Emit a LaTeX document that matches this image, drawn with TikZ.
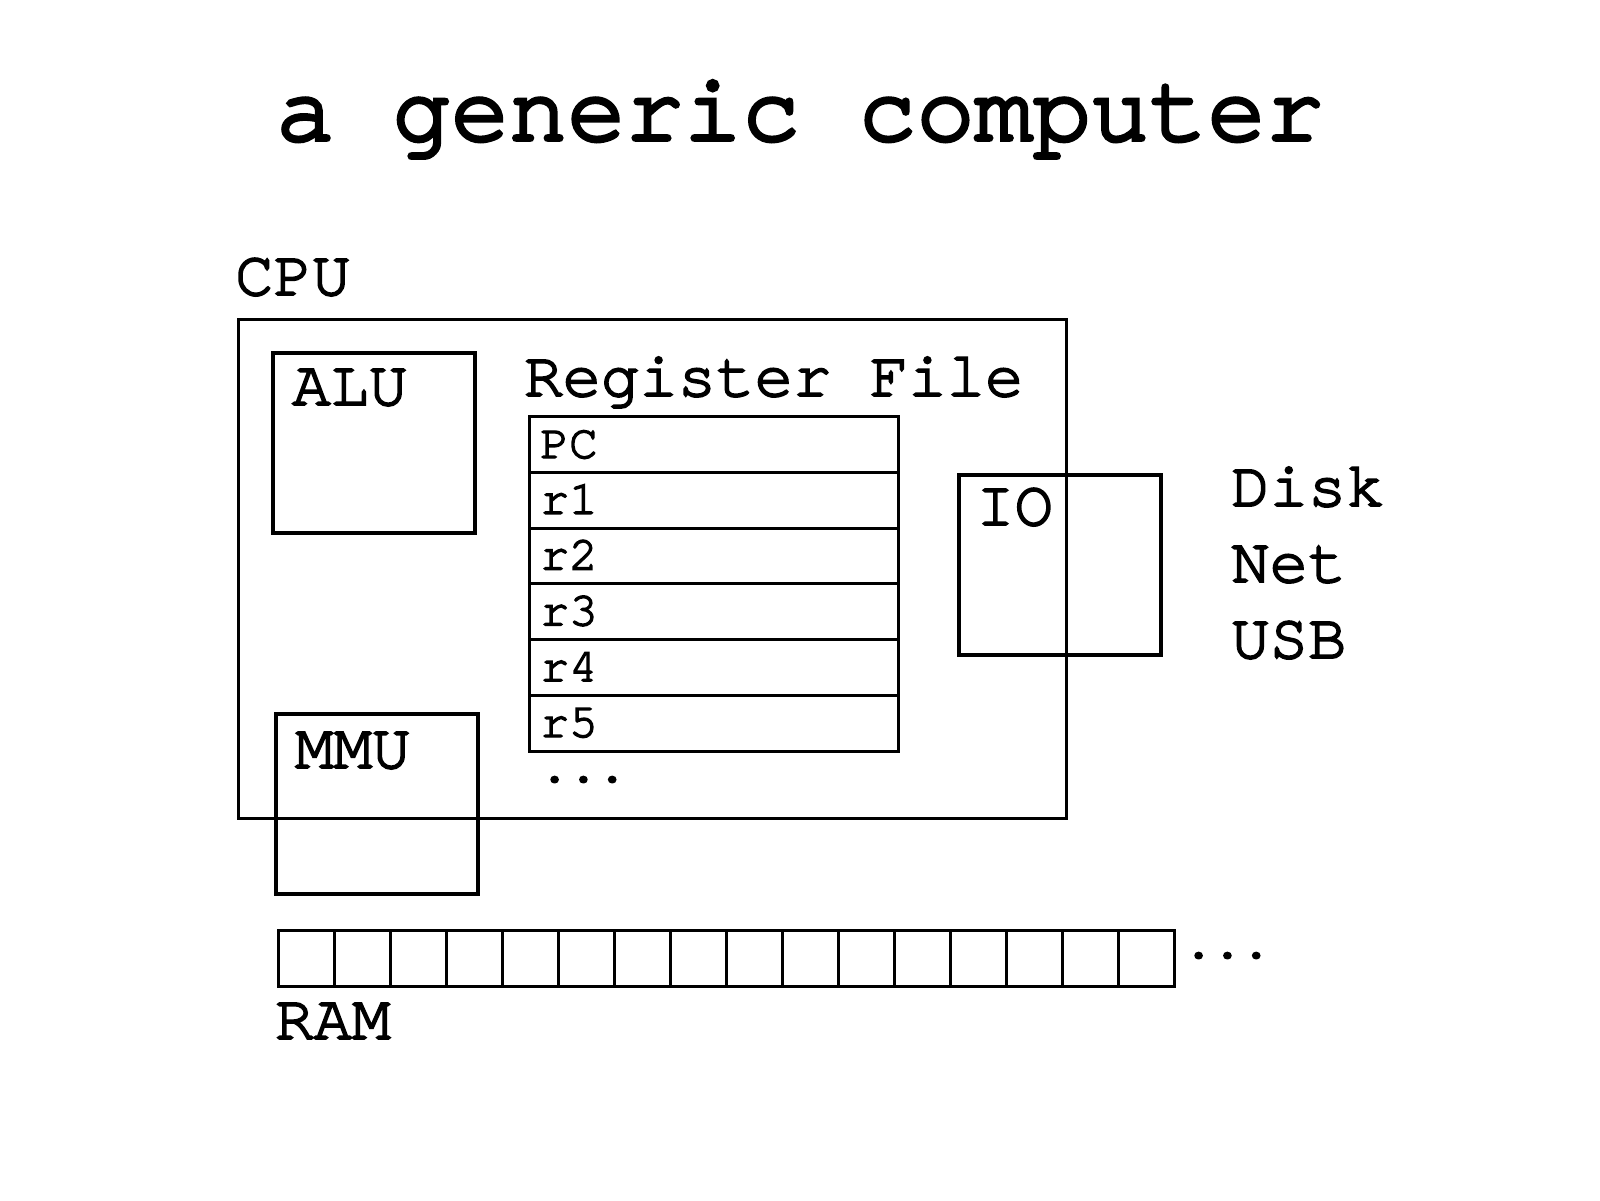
\documentclass[tikz,border=0pt]{standalone}
\usepackage{fontspec}
\setmainfont{texgyrecursor-regular.otf}[FakeBold=3]
\newfontfamily\titlefont{texgyrecursor-regular.otf}[FakeBold=4]
\begin{document}
\begin{tikzpicture}[x=1pt,y=-1pt,
  lbl/.style={inner sep=0pt,anchor=base west,font=\fontsize{64}{64}\selectfont},
  small/.style={inner sep=0pt,anchor=base west,font=\fontsize{48}{48}\selectfont},
  cpubox/.style={draw,line width=3pt},
  unit/.style={draw,line width=3.1pt},
  cell/.style={draw,line width=3pt,inner sep=0pt,minimum width=56pt,minimum height=56pt,anchor=north west},
  regrow/.style={draw,line width=3pt,inner sep=0pt,minimum width=369pt,minimum height=55.8pt,anchor=north west}]
\useasboundingbox (0,0) rectangle (1600,1200);
% title
\node[inner sep=0pt,anchor=base,font=\titlefont\fontsize{97}{97}\selectfont] (title) at (800,140) {a generic computer};
% CPU
\node[lbl] (cpulbl) at (235,295) {CPU};
\draw[cpubox] (238,319) rectangle (1066,818);
% ALU
\draw[unit] (273,353) rectangle (475,533);
\node[lbl] (alu) at (292,405) {ALU};
% MMU
\draw[unit] (276,714) rectangle (478,894);
\node[lbl] (mmu) at (295,768) {MMU};
% Register file
\node[lbl] (reglbl) at (524,396) {Register File};
\foreach \t [count=\i from 0] in {PC,r1,r2,r3,r4,r5}{
  \node[regrow] (reg\i) at (528,{415+55.8*\i}) {};
  \node[small] (regt\i) at (540,{415+55.8*\i+43}) {\t};
}
\node[small] (regdots) at (540,782) {...};
% IO
\draw[unit] (959,475) rectangle (1161,655);
\node[lbl] (io) at (976,525) {IO};
\node[lbl] (disk) at (1231,506) {Disk};
\node[lbl] (net) at (1231,582) {Net};
\node[lbl] (usb) at (1231,658) {USB};
% RAM
\foreach \i in {0,...,15}{
  \node[cell] (ram\i) at ({277+56*\i},929) {};
}
\node[small] (ramdots) at (1184,958) {...};
\node[lbl] (ram) at (275,1039) {RAM};
\end{tikzpicture}
\end{document}
